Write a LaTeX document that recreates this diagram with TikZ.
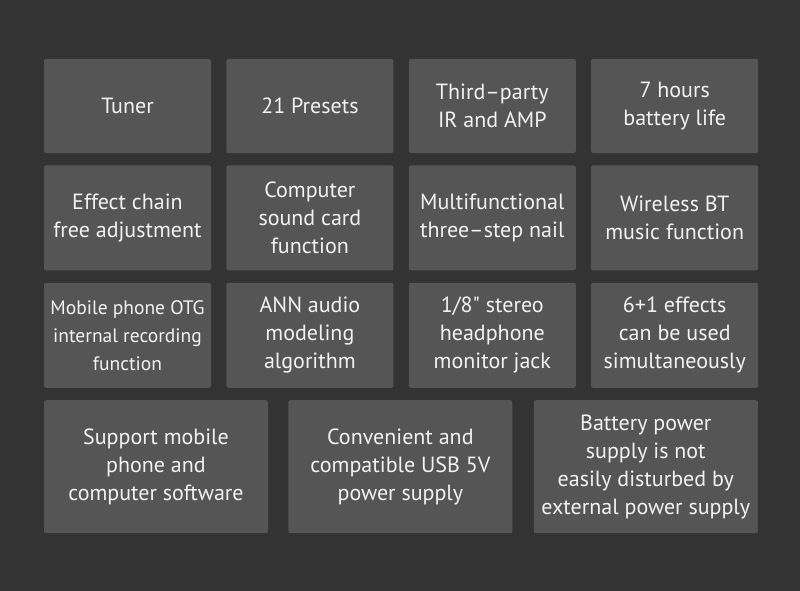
\documentclass[tikz,border=0pt]{standalone}
\usepackage{fontspec}
\setmainfont{PT Sans}
\usepackage{xcolor}
\usepackage{tikz}
\usetikzlibrary{
	positioning,
	backgrounds,
	}
\definecolor{bgdark}{HTML}{333333}
\definecolor{boxgray}{HTML}{555555}
\definecolor{textwhite}{HTML}{F2F2F2}
\tikzset{
	feat/.style={fill=boxgray, rounded corners=2pt, text=textwhite, align=center,
		inner sep=0pt, minimum width=167pt, font=\fontsize{22}{28}\selectfont},
	rowa/.style={feat, minimum height=94pt},
	rowb/.style={feat, minimum height=105pt},
	rowd/.style={feat, minimum height=133pt, minimum width=224pt},
}

\begin{document}
\begin{tikzpicture}[x=1pt, y=1pt]
		\useasboundingbox (0,0) rectangle (800,-591);
		\fill[bgdark] (0,0) rectangle (800,-591);
		% row 1
		\node[rowa] (tuner) at (127.5,-106) {Tuner};
		\node[rowa, right = 15pt of tuner] (presets) {21 Presets};
		\node[rowa, right = 15pt of presets] (iramp) {Third--party\\IR and AMP};
		\node[rowa, right = 15pt of iramp] (battery) {7 hours\\battery life};
		% row 2
		\node[rowb, below = 12pt of tuner] (chain) {Effect chain\\free adjustment};
		\node[rowb, right = 15pt of chain] (soundcard) {Computer\\sound card\\function};
		\node[rowb, right = 15pt of soundcard] (nail) {Multifunctional\\three--step nail};
		\node[rowb, right = 15pt of nail] (wireless) {Wireless BT\\music function};
		% row 3
		\node[rowb, below = 12pt of chain, font=\fontsize{19.5}{28}\selectfont] (otg) {Mobile phone OTG\\internal recording\\function};
		\node[rowb, right = 15pt of otg] (ann) {ANN audio\\modeling\\algorithm};
		\node[rowb, right = 15pt of ann] (jack) {1/8\textquotedbl{} stereo\\headphone\\monitor jack};
		\node[rowb, right = 15pt of jack] (effects) {6+1 effects\\can be used\\simultaneously};
		% row 4
		\node[rowd, below = 12pt of otg.south west, anchor=north west] (software) {Support mobile\\phone and\\computer software};
		\node[rowd, right = 20pt of software] (usb) {Convenient and\\compatible USB 5V\\power supply};
		\node[rowd, right = 21pt of usb] (power) {Battery power\\supply is not\\easily disturbed by\\external power supply};
	\end{tikzpicture}
\end{document}
